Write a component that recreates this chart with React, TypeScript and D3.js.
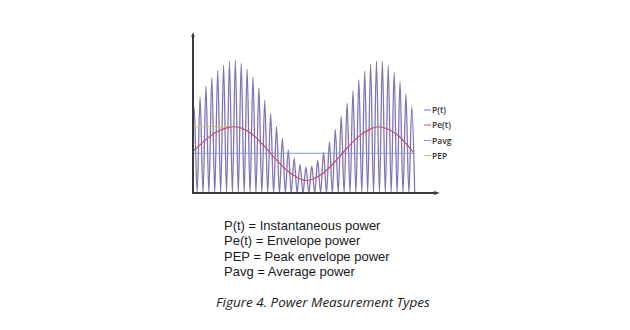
import React from "react";
import * as d3 from "d3";

// Carrier-cycle peak values of instantaneous power P(t), one per cycle
const peakTimes: number[] = Array.from({ length: 38 }, (_, k) => 0.2 + k);
const pPeaks: number[] = [
  6.45, 7.25, 8.05, 8.7, 9.25, 9.65, 9.9, 10.0, 9.8, 9.35,
  8.75, 7.95, 7.0, 6.0, 5.0, 4.1, 3.25, 2.6, 2.15, 1.95,
  2.05, 2.45, 3.05, 3.85, 4.8, 5.8, 6.8, 7.7, 8.55, 9.2,
  9.7, 9.95, 9.95, 9.6, 9.1, 8.4, 7.5, 6.5,
];
// Envelope power Pe(t) samples
const peTimes: number[] = [0, 2, 4, 6, 7, 8, 10, 12, 14, 16, 18, 19, 20, 22, 24, 26, 28, 30, 31.5, 33, 35, 37.5];
const peValues: number[] = [3.15, 3.95, 4.6, 4.95, 5.0, 4.93, 4.45, 3.6, 2.6, 1.7, 1.1, 0.95, 1.0, 1.45, 2.3, 3.3, 4.2, 4.8, 5.0, 4.85, 4.3, 3.05];
// Average power and peak envelope power
const pavgValue: number[] = [3.0];
const pavgSpan: number[] = [0, 37.5];
const pepValue: number[] = [5.0];
const pepSpan: number[] = [0, 7];

const legendLabels: string[] = ["P(t)", "Pe(t)", "Pavg", "PEP"];
const legendColors: string[] = ["#8272b6", "#c0506a", "#7f9fcf", "#c9c46a"];
const definitions: string[] = [
  "P(t) = Instantaneous power",
  "Pe(t) = Envelope power",
  "PEP = Peak envelope power",
  "Pavg = Average power",
];
const caption = "Figure 4. Power Measurement Types";

export default function App() {
  const x = d3.scaleLinear().domain([0, 42]).range([193, 440]);
  const y = d3.scaleLinear().domain([0, 12]).range([193, 34]);

  const pPoints: [number, number][] = [];
  peakTimes.forEach((t, i) => {
    pPoints.push([t - 0.5, 0]);
    pPoints.push([t, pPeaks[i]]);
  });
  pPoints.push([peakTimes[peakTimes.length - 1] + 0.5, 0]);

  const line = d3
    .line<[number, number]>()
    .x((d) => x(d[0]))
    .y((d) => y(d[1]))
    .curve(d3.curveMonotoneX);
  const peLine = d3
    .line<[number, number]>()
    .x((d) => x(d[0]))
    .y((d) => y(d[1]))
    .curve(d3.curveNatural);

  const pePts: [number, number][] = peTimes.map((t, i) => [t, peValues[i]]);

  const legendY = [110, 125, 140.5, 155.5];
  const defY = [229.5, 245, 260.5, 275.5];

  return (
    <svg
      width={630}
      height={330}
      style={{ position: "absolute", left: 0, top: 0, background: "#fff" }}
    >
      <defs>
        <clipPath id="plotclip">
          <rect x={x(0)} y={0} width={x(42) - x(0)} height={y(0)} />
        </clipPath>
      </defs>
      <g clipPath="url(#plotclip)">
        <path d={line(pPoints) || ""} fill="none" stroke={legendColors[0]} strokeWidth={1.3} />
      </g>
      <line x1={x(pavgSpan[0])} x2={x(pavgSpan[1])} y1={y(pavgValue[0])} y2={y(pavgValue[0])} stroke={legendColors[2]} strokeWidth={1.2} />
      <line x1={x(pepSpan[0])} x2={x(pepSpan[1])} y1={y(pepValue[0])} y2={y(pepValue[0])} stroke={legendColors[3]} strokeWidth={1.2} />
      <path d={peLine(pePts) || ""} fill="none" stroke={legendColors[1]} strokeWidth={1.2} />

      {/* axes */}
      <line x1={x(0)} x2={x(0)} y1={y(0) + 1} y2={35} stroke="#3a3a3a" strokeWidth={2} />
      <path d={`M${x(0) - 1.8},37 L${x(0)},32 L${x(0) + 1.8},37 Z`} fill="#3a3a3a" />
      <line x1={x(0) - 1} x2={436} y1={y(0)} y2={y(0)} stroke="#3a3a3a" strokeWidth={1.8} />
      <path d={`M434,${y(0) - 2} L440,${y(0)} L434,${y(0) + 2} Z`} fill="#3a3a3a" />

      {/* legend */}
      {legendLabels.map((lab, i) => (
        <g key={lab}>
          <line x1={424} x2={431} y1={legendY[i]} y2={legendY[i]} stroke={legendColors[i]} strokeWidth={1} />
          <text
            x={432}
            y={legendY[i] + 3}
            fontFamily="'Open Sans', sans-serif"
            fontSize={8.5}
            fontWeight={600}
            fill="#333"
          >
            {lab}
          </text>
        </g>
      ))}

      {/* definitions */}
      {definitions.map((d, i) => (
        <text key={d} x={224} y={defY[i]} fontFamily="'Liberation Sans', Arial, sans-serif" fontSize={13} fill="#1a1a1a">
          {d}
        </text>
      ))}

      <text
        x={323}
        y={306.5}
        textAnchor="middle"
        fontFamily="'Open Sans', sans-serif"
        fontStyle="italic"
        fontSize={13.5}
        fill="#222"
      >
        {caption}
      </text>
    </svg>
  );
}
